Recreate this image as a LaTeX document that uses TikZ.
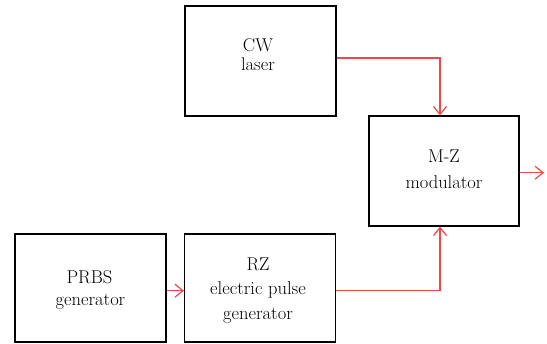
\documentclass[tikz,border=0pt]{standalone}
\usepackage{fontspec}
\setmainfont{Latin Modern Roman}
\usetikzlibrary{arrows.meta}
\definecolor{wire}{RGB}{236,72,78}
\tikzset{
  blk/.style={draw=black, line width=1.2pt, inner sep=0pt},
  txt/.style={anchor=base, inner sep=0pt, font=\fontsize{18.5}{20}\selectfont},
  wirestyle/.style={draw=wire, line width=1.2pt, -{Straight Barb[length=8pt,width=13pt,line width=1.2pt]}},
}
\begin{document}
\begin{tikzpicture}[x=1pt,y=-1pt]
\useasboundingbox (0,0) rectangle (547,344);
% boxes
\node[blk, minimum width=151pt, minimum height=110pt] (cw) at (260.5,61) {};
\node[blk, minimum width=150pt, minimum height=110pt] (mz) at (444,171) {};
\node[blk, minimum width=151pt, minimum height=108pt] (prbs) at (90.5,288) {};
\node[blk, minimum width=151pt, minimum height=108pt] (rz) at (260,288) {};
% texts
\node[txt] (cw1) at (258,51.7) {CW};
\node[txt] (cw2) at (258,70.7) {laser};
\node[txt] (mz1) at (444,162.7) {M-Z};
\node[txt] (mz2) at (444,189) {modulator};
\node[txt] (pr1) at (89.5,284) {PRBS};
\node[txt] (pr2) at (90.5,306) {generator};
\node[txt] (rz1) at (258,270.7) {RZ};
\node[txt] (rz2) at (258,295) {electric pulse};
\node[txt] (rz3) at (258,320) {generator};
% connectors
\coordinate (out) at (544,172.7);
\draw[wirestyle] (cw.east |- 0,58) -| ([xshift=-4pt]mz.north);
\draw[wirestyle] (mz.east |- out) -- (out);
\draw[wirestyle] (prbs.east |- 0,290.7) -- (rz.west |- 0,290.7);
\draw[wirestyle] (rz.east |- 0,290.7) -| ([xshift=-4pt]mz.south);
\end{tikzpicture}
\end{document}
